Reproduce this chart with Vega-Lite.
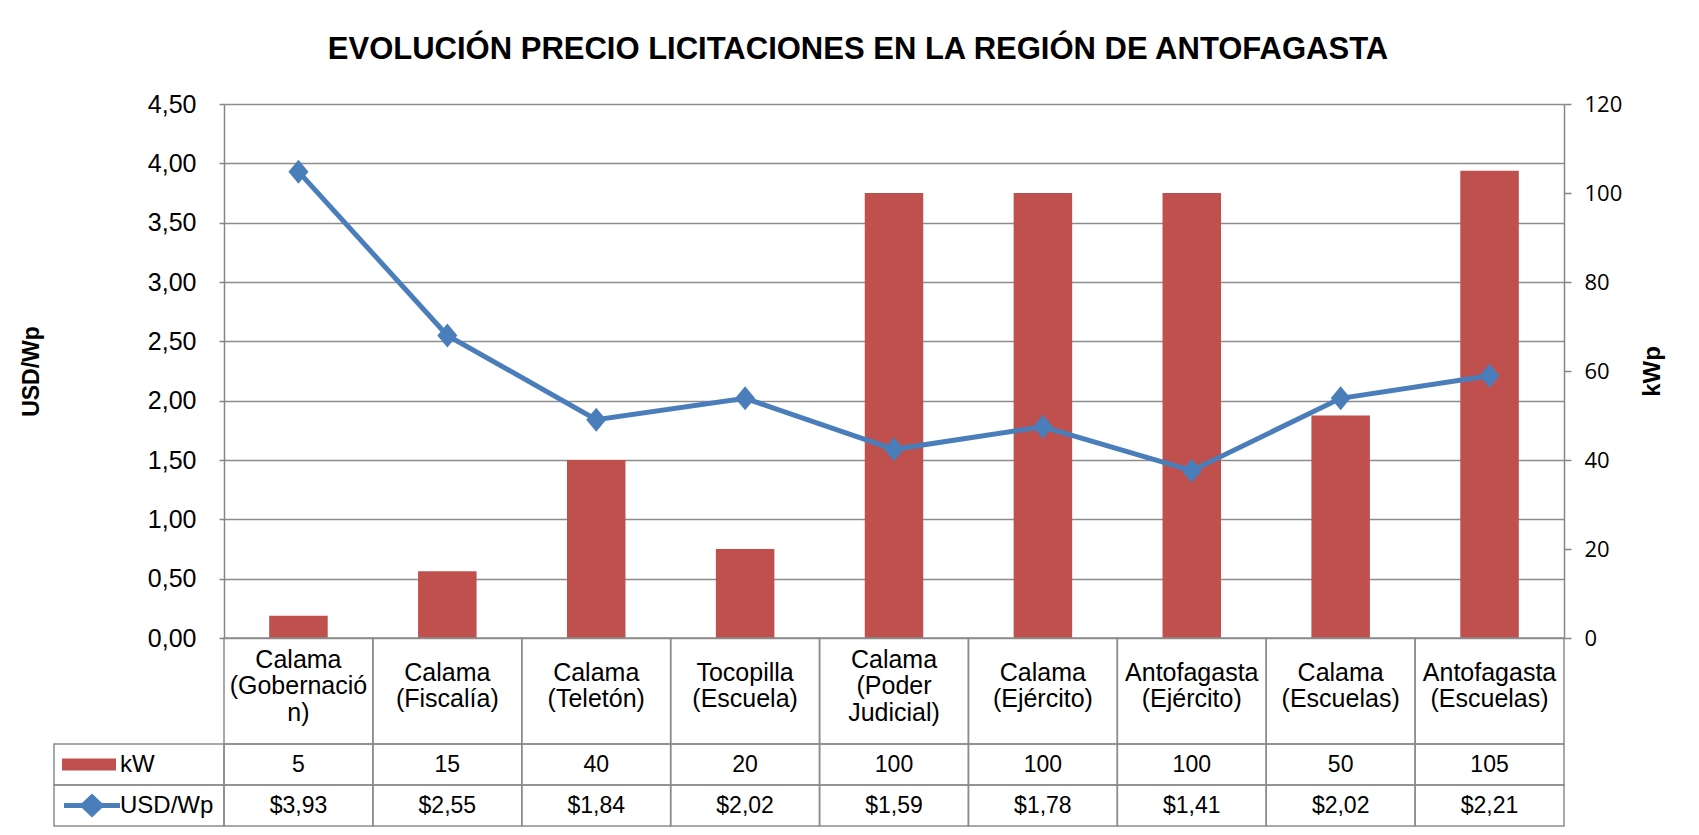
{
  "$schema": "https://vega.github.io/schema/vega-lite/v6.json",
  "background": "white",
  "padding": {"left": 20, "top": 34, "right": 5, "bottom": 5},
  "spacing": 0,
  "bounds": "flush",
  "config": {
    "view": {"stroke": null},
    "font": "Liberation Sans",
    "locale": {"number": {"decimal": ",", "thousands": ".", "grouping": [3], "currency": ["$", ""]}},
    "axis": {"domainColor": "#868686", "tickColor": "#868686", "gridColor": "#8c8c8c", "labelColor": "black", "titleColor": "black"}
  },
  "datasets": {
    "d": [
      {"sitio": "Calama\n(Gobernació\nn)", "kW": 5, "usd": 3.93},
      {"sitio": "Calama\n(Fiscalía)", "kW": 15, "usd": 2.55},
      {"sitio": "Calama\n(Teletón)", "kW": 40, "usd": 1.84},
      {"sitio": "Tocopilla\n(Escuela)", "kW": 20, "usd": 2.02},
      {"sitio": "Calama\n(Poder\nJudicial)", "kW": 100, "usd": 1.59},
      {"sitio": "Calama\n(Ejército)", "kW": 100, "usd": 1.78},
      {"sitio": "Antofagasta\n(Ejército)", "kW": 100, "usd": 1.41},
      {"sitio": "Calama\n(Escuelas)", "kW": 50, "usd": 2.02},
      {"sitio": "Antofagasta\n(Escuelas)", "kW": 105, "usd": 2.21}
    ],
    "leg": [
      {"row": "kW", "label": "kW"},
      {"row": "usd", "label": "USD/Wp"}
    ]
  },
  "vconcat": [
    {
      "width": 1340,
      "height": 534,
      "title": {"text": "EVOLUCIÓN PRECIO LICITACIONES EN LA REGIÓN DE ANTOFAGASTA", "font": "Liberation Sans", "fontSize": 31, "fontWeight": "bold", "anchor": "middle", "dx": -36, "offset": 26, "color": "black"},
      "data": {"name": "d"},
      "encoding": {
        "x": {"field": "sitio", "type": "nominal", "sort": null, "axis": null, "scale": {"paddingInner": 0.607, "paddingOuter": 0.3035}}
      },
      "layer": [
        {
          "mark": {"type": "bar", "color": "#C0504D"},
          "encoding": {
            "y": {"field": "kW", "type": "quantitative", "scale": {"domain": [0, 120]},
              "axis": {"orient": "right", "title": "kWp", "values": [0, 20, 40, 60, 80, 100, 120], "grid": false, "domainWidth": 1.5, "tickSize": 7, "tickWidth": 1.5, "labelFont": "Open Sans", "labelFontSize": 22, "labelPadding": 13, "titleFont": "Liberation Sans", "titleFontSize": 24, "titleFontWeight": "bold", "titleAngle": 270, "titlePadding": 43}}
          }
        },
        {
          "mark": {"type": "line", "color": "#4A7EBB", "strokeWidth": 5, "point": {"filled": true, "shape": "M-1,0L0,-1.2L1,0L0,1.2Z", "size": 400, "color": "#4A7EBB"}},
          "encoding": {
            "y": {"field": "usd", "type": "quantitative", "scale": {"domain": [0, 4.5]},
              "axis": {"orient": "left", "title": "USD/Wp", "values": [0, 0.5, 1, 1.5, 2, 2.5, 3, 3.5, 4, 4.5], "format": ".2f", "grid": true, "gridWidth": 1.5, "domainWidth": 1.5, "tickSize": 5, "tickWidth": 1.5, "labelFont": "Liberation Sans", "labelFontSize": 25, "labelPadding": 23, "titleFont": "Liberation Sans", "titleFontSize": 23, "titleFontWeight": "bold", "titlePadding": 104}}
          }
        }
      ],
      "resolve": {"scale": {"y": "independent"}}
    },
    {
      "width": 1340,
      "height": 106,
      "data": {"name": "d"},
      "encoding": {
        "x": {"field": "sitio", "type": "nominal", "sort": null, "axis": null, "scale": {"paddingInner": 0, "paddingOuter": 0}}
      },
      "layer": [
        {"mark": {"type": "rect", "fill": "white", "fillOpacity": 0, "stroke": "#8c8c8c", "strokeWidth": 1.5}},
        {"transform": [{"filter": "length(split(datum.sitio, '\\n')) == 3"}],
         "mark": {"type": "text", "lineBreak": "\n", "fontSize": 25, "lineHeight": 26.5, "dy": -31.5, "font": "Liberation Sans", "color": "black"},
         "encoding": {"text": {"field": "sitio", "type": "nominal"}}},
        {"transform": [{"filter": "length(split(datum.sitio, '\\n')) == 2"}],
         "mark": {"type": "text", "lineBreak": "\n", "fontSize": 25, "lineHeight": 26.5, "dy": -18.5, "font": "Liberation Sans", "color": "black"},
         "encoding": {"text": {"field": "sitio", "type": "nominal"}}}
      ]
    },
    {
      "width": 1340,
      "height": 82,
      "layer": [
        {
          "data": {"name": "d"},
          "transform": [{"fold": ["kW", "usd"], "as": ["row", "v"]}],
          "mark": {"type": "rect", "fill": "white", "fillOpacity": 0, "stroke": "#8c8c8c", "strokeWidth": 1.5},
          "encoding": {
            "x": {"field": "sitio", "type": "nominal", "sort": null, "axis": null, "scale": {"paddingInner": 0, "paddingOuter": 0}},
            "y": {"field": "row", "type": "nominal", "axis": null, "scale": {"domain": ["kW", "usd"], "paddingInner": 0, "paddingOuter": 0}}
          }
        },
        {
          "data": {"name": "d"},
          "mark": {"type": "text", "fontSize": 23, "font": "Liberation Sans", "color": "black"},
          "encoding": {
            "x": {"field": "sitio", "type": "nominal", "sort": null, "axis": null, "scale": {"paddingInner": 0, "paddingOuter": 0}},
            "y": {"datum": "kW", "type": "nominal"},
            "text": {"field": "kW", "type": "quantitative"}
          }
        },
        {
          "data": {"name": "d"},
          "mark": {"type": "text", "fontSize": 23, "font": "Liberation Sans", "color": "black"},
          "encoding": {
            "x": {"field": "sitio", "type": "nominal", "sort": null, "axis": null, "scale": {"paddingInner": 0, "paddingOuter": 0}},
            "y": {"datum": "usd", "type": "nominal"},
            "text": {"field": "usd", "type": "quantitative", "format": "$.2f"}
          }
        },
        {
          "data": {"name": "leg"},
          "mark": {"type": "rect", "fill": "white", "fillOpacity": 0, "stroke": "#8c8c8c", "strokeWidth": 1.5},
          "encoding": {
            "x": {"datum": "leg", "type": "nominal", "axis": null, "scale": {"domain": ["leg"], "range": [-170, 0], "paddingInner": 0, "paddingOuter": 0}},
            "y": {"field": "row", "type": "nominal"}
          }
        },
        {
          "data": {"name": "leg"},
          "mark": {"type": "point", "filled": true, "size": 3136, "opacity": 1, "strokeWidth": 0},
          "encoding": {
            "x": {"datum": "leg", "type": "nominal", "axis": null, "scale": {"domain": ["leg"], "range": [-170, 0], "paddingInner": 0, "paddingOuter": 0}},
            "y": {"field": "row", "type": "nominal"},
            "shape": {"field": "row", "type": "nominal", "legend": null, "scale": {"domain": ["kW", "usd"], "range": ["M-2.75,-0.214L-0.821,-0.214L-0.821,0.214L-2.75,0.214Z", "M-2.679,-0.09L-2.036,-0.09L-1.679,-0.43L-1.322,-0.09L-0.679,-0.09L-0.679,0.09L-1.322,0.09L-1.679,0.43L-2.036,0.09L-2.679,0.09Z"]}},
            "color": {"field": "row", "type": "nominal", "legend": null, "scale": {"domain": ["kW", "usd"], "range": ["#C0504D", "#4A7EBB"]}}
          }
        },
        {
          "data": {"name": "leg"},
          "mark": {"type": "text", "align": "left", "dx": -19, "fontSize": 24, "font": "Liberation Sans", "color": "black"},
          "encoding": {
            "x": {"datum": "leg", "type": "nominal", "axis": null, "scale": {"domain": ["leg"], "range": [-170, 0], "paddingInner": 0, "paddingOuter": 0}},
            "y": {"field": "row", "type": "nominal"},
            "text": {"field": "label", "type": "nominal"}
          }
        }
      ],
      "resolve": {"scale": {"x": "independent", "color": "independent", "shape": "independent"}}
    }
  ]
}
